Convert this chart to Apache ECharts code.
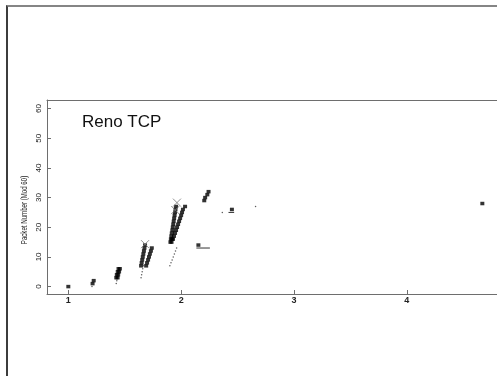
<!DOCTYPE html>
<html>
<head>
<meta charset="utf-8">
<script src="https://cdn.jsdelivr.net/npm/echarts@6/dist/echarts.min.js"></script>
<style>
  html, body { margin: 0; padding: 0; background: #fff; }
  #wrap { position: relative; width: 497px; height: 376px; overflow: hidden; }
  #chart { position: absolute; left: 0; top: 0; width: 497px; height: 376px; }
  #frame { position: absolute; left: 6px; top: 5px; width: 500px; height: 400px;
           border-top: 2px solid #858585; border-left: 2px solid #3c3c3c; pointer-events: none; }
</style>
</head>
<body>
<div id="wrap">
  <div id="chart"></div>
  <div id="frame"></div>
</div>
<script>
// 刻度
var xTicks = [1, 2, 3, 4]
var yTicks = [0, 10, 20, 30, 40, 50, 60]

// 发送的数据包 [时间, 序号]
var sentPackets = [
  [1.00, 0],
  [1.215, 1], [1.225, 2],
  [1.425, 3], [1.430, 4], [1.438, 5], [1.445, 6],
  [1.437, 3], [1.442, 4], [1.450, 5], [1.457, 6],
  [1.645, 7], [1.650, 8], [1.655, 9], [1.660, 10], [1.665, 11], [1.670, 12], [1.675, 13], [1.680, 14],
  [1.690, 7], [1.698, 8], [1.707, 9], [1.715, 10], [1.723, 11], [1.732, 12], [1.740, 13],
  [1.905, 15], [1.909, 16], [1.913, 17], [1.917, 18], [1.922, 19], [1.926, 20], [1.930, 21],
  [1.934, 22], [1.938, 23], [1.942, 24], [1.946, 25], [1.950, 26], [1.955, 27],
  [1.915, 15], [1.919, 16],
  [1.928, 16], [1.937, 17], [1.946, 18], [1.955, 19], [1.964, 20], [1.973, 21],
  [1.982, 22], [1.991, 23], [2.000, 24], [2.008, 25], [2.016, 26], [2.035, 27],
  [2.153, 14],
  [2.205, 29], [2.213, 30], [2.232, 31], [2.243, 32],
  [2.450, 26],
  [4.670, 28]
]

// 确认 (小点)
var ackDots = [
  [1.210, 0],
  [1.425, 1], [1.430, 2],
  [1.645, 3], [1.650, 4], [1.655, 5], [1.660, 6], [1.667, 7],
  [1.900, 7], [1.910, 8], [1.920, 9], [1.930, 10], [1.940, 11], [1.950, 12], [1.960, 13],
  [2.365, 25],
  [2.660, 27]
]

// 丢包标记 (X)
var dropMarks = [
  [1.680, 14.3],
  [1.963, 28.3],
  [1.948, 25.8]
]

// 短横线
var segA = [[2.135, 13], [2.255, 13]]
var segB = [[2.420, 25], [2.470, 25]]

var chart = echarts.init(document.getElementById('chart'))
var axisColor = '#6e6e6e'
var option = {
  animation: false,
  grid: {
    left: 47,
    top: 100,
    right: 0,
    bottom: 82
  },
  xAxis: [{
    type: 'value',
    min: 0.811,
    max: 4.80,
    splitLine: { show: false },
    axisLine: { onZero: false, lineStyle: { color: axisColor } },
    axisTick: {
      inside: true,
      length: 4,
      customValues: xTicks,
      lineStyle: { color: axisColor }
    },
    axisLabel: {
      customValues: xTicks,
      margin: 2,
      fontSize: 9,
      fontWeight: 'bold',
      color: '#222',
      fontFamily: 'Liberation Sans'
    }
  }, {
    // 上边框
    type: 'value',
    position: 'top',
    min: 0.811,
    max: 4.80,
    splitLine: { show: false },
    axisLine: { onZero: false, lineStyle: { color: axisColor } },
    axisTick: { show: false },
    axisLabel: { show: false }
  }],
  yAxis: {
    type: 'value',
    min: -2.5,
    max: 62.9,
    splitLine: { show: false },
    axisLine: { onZero: false, lineStyle: { color: axisColor } },
    axisTick: {
      inside: true,
      length: 4,
      customValues: yTicks,
      lineStyle: { color: axisColor }
    },
    axisLabel: {
      customValues: yTicks,
      rotate: 90,
      margin: 4,
      fontSize: 8,
      color: '#222',
      fontFamily: 'Liberation Sans'
    }
  },
  graphic: [
    {
      type: 'text',
      left: 82,
      top: 114,
      style: {
        text: 'Reno TCP',
        fontSize: 17,
        fontFamily: 'Liberation Sans',
        fill: '#111'
      }
    },
    {
      type: 'text',
      x: 25,
      y: 210,
      rotation: Math.PI / 2,
      scaleX: 0.68,
      style: {
        text: 'Packet Number (Mod 60)',
        fontSize: 9,
        fontFamily: 'Liberation Sans',
        fill: '#222',
        align: 'center',
        verticalAlign: 'middle'
      }
    }
  ],
  series: [
    {
      type: 'scatter',
      data: sentPackets,
      symbol: 'rect',
      symbolSize: [4, 3.5],
      itemStyle: { color: '#000' }
    },
    {
      type: 'scatter',
      data: ackDots,
      symbol: 'circle',
      symbolSize: 1.5,
      itemStyle: { color: '#333' }
    },
    {
      type: 'scatter',
      data: dropMarks,
      symbol: 'path://M0,0L10,10M10,0L0,10',
      symbolSize: 8,
      itemStyle: { color: 'none', borderColor: '#777', borderWidth: 1 }
    },
    {
      type: 'line',
      data: segA,
      symbol: 'none',
      lineStyle: { color: '#333', width: 1 }
    },
    {
      type: 'line',
      data: segB,
      symbol: 'none',
      lineStyle: { color: '#333', width: 1 }
    }
  ]
}
chart.setOption(option)
</script>
</body>
</html>
